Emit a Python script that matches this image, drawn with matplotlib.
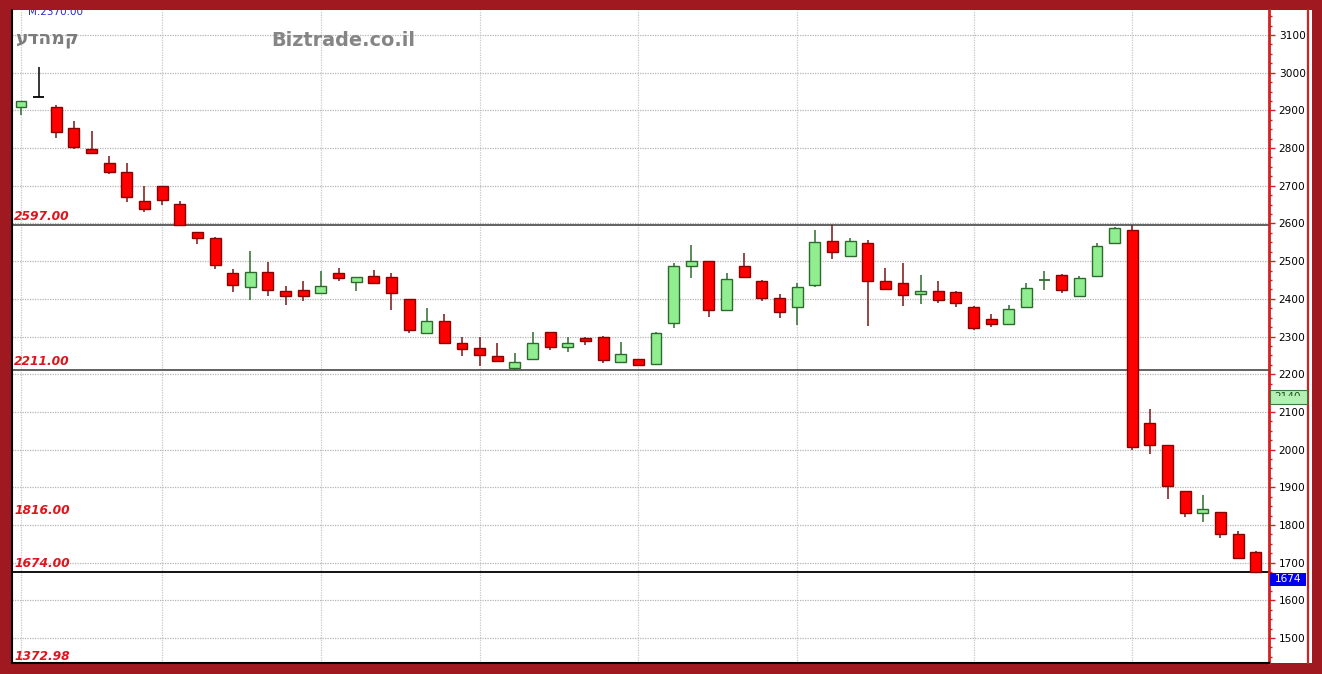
import matplotlib
matplotlib.use("Agg")
import matplotlib.pyplot as plt
import numpy as np
from matplotlib.patches import Rectangle
from matplotlib.lines import Line2D
from matplotlib.transforms import Bbox

# ---------- Data ----------
opens = [2908, 2936, 2910, 2853, 2798, 2760, 2737, 2660, 2699, 2652,
         2577, 2561, 2469, 2431, 2472, 2422, 2424, 2415, 2469, 2444,
         2461, 2459, 2400, 2309, 2342, 2284, 2269, 2249, 2217, 2240,
         2313, 2272, 2295, 2300, 2233, 2240, 2227, 2337, 2487, 2499,
         2369, 2488, 2447, 2403, 2378, 2437, 2554, 2514, 2549, 2447,
         2441, 2413, 2422, 2419, 2379, 2346, 2333, 2379, 2450, 2463,
         2408, 2461, 2547, 2583, 2070, 2011, 1890, 1833, 1834, 1776,
         1729]
highs = [2925, 3015, 2913, 2873, 2846, 2779, 2760, 2699, 2700, 2660,
         2578, 2563, 2478, 2528, 2498, 2434, 2448, 2475, 2481, 2459,
         2476, 2468, 2400, 2375, 2359, 2298, 2298, 2284, 2256, 2313,
         2313, 2298, 2300, 2302, 2286, 2241, 2311, 2494, 2543, 2500,
         2468, 2521, 2449, 2412, 2441, 2583, 2596, 2562, 2556, 2481,
         2494, 2463, 2447, 2420, 2380, 2360, 2384, 2443, 2475, 2465,
         2461, 2547, 2591, 2596, 2107, 2011, 1891, 1880, 1835, 1784,
         1730]
lows = [2889, 2936, 2826, 2798, 2785, 2731, 2658, 2631, 2649, 2597,
        2545, 2478, 2419, 2397, 2408, 2384, 2394, 2413, 2446, 2422,
        2440, 2371, 2309, 2308, 2282, 2248, 2222, 2235, 2211, 2240,
        2264, 2260, 2278, 2231, 2233, 2224, 2226, 2322, 2455, 2353,
        2368, 2455, 2394, 2348, 2331, 2432, 2505, 2513, 2328, 2425,
        2381, 2386, 2390, 2378, 2317, 2324, 2332, 2375, 2424, 2415,
        2405, 2457, 2546, 1999, 1989, 1869, 1820, 1807, 1765, 1711,
        1674]
closes = [2925, 2936, 2843, 2804, 2786, 2736, 2669, 2638, 2662, 2597,
          2561, 2490, 2437, 2472, 2424, 2408, 2408, 2434, 2455, 2459,
          2441, 2416, 2317, 2342, 2284, 2267, 2251, 2236, 2233, 2284,
          2273, 2282, 2289, 2238, 2253, 2225, 2310, 2488, 2501, 2369,
          2453, 2457, 2403, 2364, 2432, 2552, 2524, 2554, 2447, 2426,
          2410, 2422, 2397, 2390, 2322, 2333, 2372, 2430, 2451, 2424,
          2456, 2540, 2589, 2008, 2012, 1904, 1831, 1843, 1776, 1712,
          1674]

level_values = [2597.00, 2211.00, 1674.00]
label_values = [2597.00, 2211.00, 1816.00, 1674.00]
bottom_label = "1372.98"
y_ticks = list(range(1500, 3101, 100))
month_marks = [0, 8, 17, 26, 35, 44, 54, 63]
last_price = 1674
current_box = "2140"
name_he = "קמהדע"
site = "Biztrade.co.il"
top_note = "M.2370.00"

# ---------- Figure ----------
W, H = 1322, 674
BORDER = "#a01820"
RED_UP = "#ff0000"
fig = plt.figure(figsize=(W / 100, H / 100), dpi=100, facecolor=BORDER)

def fx(px):
    return px / W

def fy(py):
    return 1 - py / H

# white panel behind the price scale
fig.patches.append(Rectangle((fx(1270), fy(663)), fx(1312) - fx(1270), fy(10) - fy(663),
                             transform=fig.transFigure, facecolor="white", edgecolor="none", zorder=-1))
fig.lines.append(Line2D([fx(1308), fx(1308)], [fy(663), fy(10)], transform=fig.transFigure,
                        color="#d42020", lw=1.6))

ax = fig.add_axes([fx(12), fy(663), fx(1269) - fx(12), fy(10) - fy(663)])
ax.set_facecolor("white")

n = len(opens)
x = np.arange(n)
o = np.array(opens)
h = np.array(highs)
l = np.array(lows)
c = np.array(closes)
up = c > o
flat = np.abs(c - o) < 2

# wicks
wick_cols = np.where(up, "#2d6b2d", "#7a1515")
wick_cols[1] = "black"
ax.vlines(x, l, h, colors=wick_cols, lw=1.1, zorder=3)

# bodies
w = 0.62
body = ~flat
ax.bar(x[body & up], (c - o)[body & up], bottom=o[body & up], width=w,
       color="#90ee90", edgecolor="#2d6b2d", linewidth=1.0, zorder=4)
ax.bar(x[body & ~up], (o - c)[body & ~up], bottom=c[body & ~up], width=w,
       color=RED_UP, edgecolor="#8b0000", linewidth=1.0, zorder=4)
for i in np.where(flat)[0]:
    col = "black" if i == 1 else "#2d6b2d"
    ax.hlines(o[i], i - w / 2, i + w / 2, colors=col, lw=1.3, zorder=4)

ax.set_xlim(-0.51, 70.75)
ax.set_ylim(1433.7, 3166.3)

# grid
ax.set_yticks(y_ticks)
ax.yaxis.set_minor_locator(matplotlib.ticker.MultipleLocator(25))
ax.set_xticks(month_marks)
ax.set_xticklabels([])
ax.grid(True, axis="y", color="#b5b5b5", linestyle=(0, (1, 1)), lw=0.9)
ax.grid(True, axis="x", color="#c8c8c8", linestyle=(0, (1, 1)), lw=0.9)
ax.set_axisbelow(True)
ax.tick_params(axis="x", length=0)
ax.yaxis.tick_right()
ax.tick_params(axis="y", which="major", colors="#d42020", labelcolor="black",
               length=4, width=1, pad=3, labelsize=7.6)
ax.tick_params(axis="y", which="minor", colors="#d42020", length=2, width=1)

for s in ["left", "bottom"]:
    ax.spines[s].set_color("black")
    ax.spines[s].set_linewidth(1.5)
ax.spines["top"].set_visible(False)
ax.spines["right"].set_color("#d42020")
ax.spines["right"].set_linewidth(2)

# support / resistance lines
for v in level_values:
    col = "black" if v == last_price else "#555555"
    ax.axhline(v, color=col, lw=1.3, zorder=2)

lab_kw = dict(color="#e0141c", fontsize=8.8, fontweight="bold", fontstyle="italic",
              ha="left", va="baseline")
for v in label_values:
    ax.annotate(f"{v:.2f}", xy=(0, v), xycoords=ax.get_yaxis_transform(),
                xytext=(2, 5), textcoords="offset pixels", **lab_kw)
ax.annotate(bottom_label, xy=(0, 0), xycoords="axes fraction",
            xytext=(2, 3), textcoords="offset pixels", **lab_kw)

# header texts (matplotlib has no bidi, so the Hebrew name is reversed for display)
ax.text(fx(28 - 12) / (fx(1269) - fx(12)), (663 - 15) / 653, top_note, transform=ax.transAxes,
        color="#2a2ad0", fontsize=7.5, ha="left", va="baseline", clip_on=True)
fig.text(fx(15), fy(44), name_he[::-1], color="#7c7c7c", fontsize=13.5, fontweight="bold",
         ha="left", va="baseline")
fig.text(fx(271), fy(45.5), site, color="#858585", fontsize=13.9, fontweight="bold",
         ha="left", va="baseline")

# price tags on the scale
fig.patches.append(Rectangle((fx(1270), fy(404)), fx(1307) - fx(1270), fy(390) - fy(404),
                             transform=fig.transFigure, facecolor="#b4f0b4",
                             edgecolor="#3a7a3a", lw=0.8, zorder=5))
t = fig.text(fx(1288), fy(392), current_box, color="#1f4f1f", fontsize=7.6,
             ha="center", va="top", zorder=6)
t.set_clip_box(Bbox([[1270, H - 395.5], [1307, H - 389]]))
t.set_clip_on(True)

fig.patches.append(Rectangle((fx(1270), fy(586)), fx(1306) - fx(1270), fy(573) - fy(586),
                             transform=fig.transFigure, facecolor="#0000ee",
                             edgecolor="none", zorder=5))
fig.text(fx(1288), fy(579.5), str(last_price), color="white", fontsize=7.6,
         ha="center", va="center", zorder=6)

fig.savefig("out.png", dpi=100, facecolor=fig.get_facecolor())
